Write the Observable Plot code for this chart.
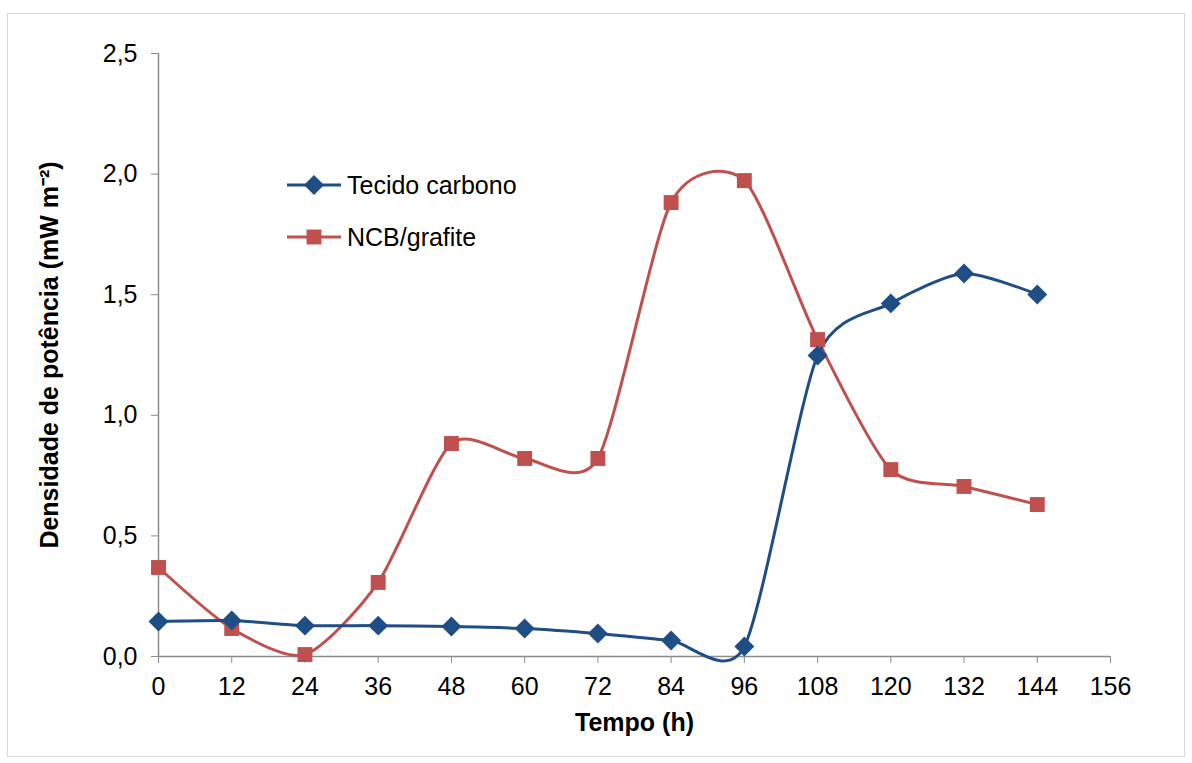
<!DOCTYPE html>
<html>
<head>
<meta charset="utf-8">
<script src="https://cdn.jsdelivr.net/npm/d3@7"></script>
<script src="https://cdn.jsdelivr.net/npm/@observablehq/plot@0.6"></script>
<style>
  html, body { margin: 0; padding: 0; background: #fff; }
  #wrap { position: relative; width: 1192px; height: 763px; overflow: hidden; font-family: "Liberation Sans", Arial, sans-serif; }
  #frame { position: absolute; left: 7px; top: 13px; width: 1178px; height: 744px; border: 1px solid #d9d9d9; box-sizing: border-box; }
  #chart { position: absolute; left: 0; top: 0; }
  #chart svg { font-family: "Liberation Sans", Arial, sans-serif; }
  [aria-label="y-axis label"] text, [aria-label="x-axis label"] text { font-weight: bold; }
  #legend { position: absolute; left: 287px; top: 170px; font-size: 25px; color: #000; }
  #legend .row { display: flex; align-items: center; height: 30px; margin-bottom: 22px; }
  #legend svg { margin-right: 6px; }
</style>
</head>
<body>
<div id="wrap">
  <div id="frame"></div>
  <div id="chart"></div>
  <div id="legend"></div>
</div>
<script>
const hours = [0, 12, 24, 36, 48, 60, 72, 84, 96, 108, 120, 132, 144];
const tecidoCarbono = [0.145, 0.149, 0.128, 0.128, 0.124, 0.116, 0.095, 0.066, 0.041, 1.248, 1.464, 1.588, 1.501];
const ncbGrafite = [0.369, 0.116, 0.008, 0.307, 0.883, 0.821, 0.821, 1.882, 1.973, 1.314, 0.775, 0.705, 0.630];
const seriesNames = ["Tecido carbono", "NCB/grafite"];
const seriesColors = ["#1f4e86", "#c0504d"];
const seriesSymbols = ["diamond2", "square2"];
const xTicks = [0, 12, 24, 36, 48, 60, 72, 84, 96, 108, 120, 132, 144, 156];
const yTicks = [0, 0.5, 1.0, 1.5, 2.0, 2.5];

const rows = [];
[tecidoCarbono, ncbGrafite].forEach((vals, si) => {
  vals.forEach((v, i) => rows.push({series: seriesNames[si], x: hours[i], y: v}));
});
const blue = rows.filter(d => d.series === seriesNames[0]);
const red = rows.filter(d => d.series === seriesNames[1]);

const fmt = v => v.toFixed(1).replace(".", ",");
const axisColor = "#8c8c8c";

const plot = Plot.plot({
  width: 1192,
  height: 763,
  marginLeft: 158,
  marginRight: 82,
  marginTop: 53,
  marginBottom: 107,
  style: {fontSize: "25px", background: "transparent", color: "#000"},
  x: {domain: [0, 156], ticks: xTicks, tickFormat: d => String(d), label: null},
  y: {domain: [0, 2.5], ticks: yTicks, tickFormat: fmt, label: null},
  marks: [
    Plot.axisX({ticks: xTicks, tickFormat: d => String(d), tickSize: 7, tickPadding: 14, fontSize: 25, stroke: axisColor, color: "#000", label: "Tempo (h)", labelAnchor: "center", labelArrow: "none", labelOffset: 74}),
    Plot.axisY({ticks: yTicks, tickFormat: fmt, tickSize: 7, tickPadding: 14, fontSize: 25, stroke: axisColor, color: "#000", label: "Densidade de potência (mW m⁻²)", labelAnchor: "center", labelArrow: "none", labelOffset: 118}),
    Plot.ruleX([0], {stroke: axisColor, strokeWidth: 1.5}),
    Plot.ruleY([0], {stroke: axisColor, strokeWidth: 1.5}),
    Plot.line(red, {x: "x", y: "y", stroke: seriesColors[1], strokeWidth: 3, curve: "cardinal", tension: 0.27}),
    Plot.line(blue, {x: "x", y: "y", stroke: seriesColors[0], strokeWidth: 3, curve: "cardinal", tension: 0.27}),
    Plot.dot(red, {x: "x", y: "y", fill: seriesColors[1], symbol: seriesSymbols[1], r: 9.5, stroke: "none"}),
    Plot.dot(blue, {x: "x", y: "y", fill: seriesColors[0], symbol: seriesSymbols[0], r: 9, stroke: "none"})
  ]
});
document.getElementById("chart").appendChild(plot);

// Legend
const legend = document.getElementById("legend");
seriesNames.forEach((name, i) => {
  const row = document.createElement("div");
  row.className = "row";
  const ns = "http://www.w3.org/2000/svg";
  const s = document.createElementNS(ns, "svg");
  s.setAttribute("width", "54"); s.setAttribute("height", "30");
  const ln = document.createElementNS(ns, "line");
  ln.setAttribute("x1", 0); ln.setAttribute("x2", 54); ln.setAttribute("y1", 15); ln.setAttribute("y2", 15);
  ln.setAttribute("stroke", seriesColors[i]); ln.setAttribute("stroke-width", 3);
  s.appendChild(ln);
  const sym = document.createElementNS(ns, "path");
  const symType = i === 0 ? d3.symbolDiamond2 : d3.symbolSquare2;
  const size = i === 0 ? Math.PI * 81 : Math.PI * 90;
  sym.setAttribute("d", d3.symbol(symType, size)());
  sym.setAttribute("transform", "translate(27,15)");
  sym.setAttribute("fill", seriesColors[i]);
  s.appendChild(sym);
  row.appendChild(s);
  const t = document.createElement("span");
  t.textContent = name;
  row.appendChild(t);
  legend.appendChild(row);
});
</script>
</body>
</html>
